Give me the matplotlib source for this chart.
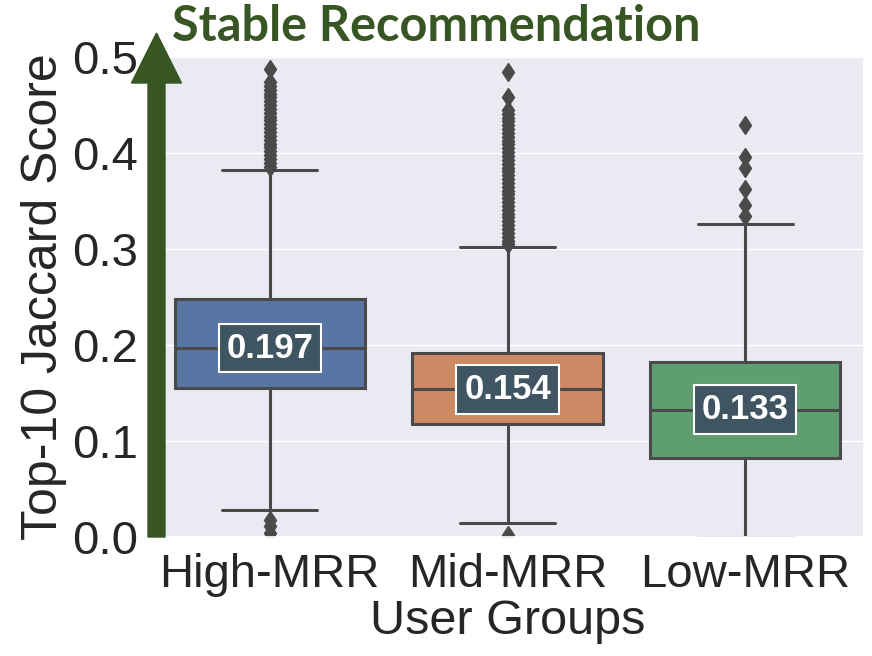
import matplotlib
matplotlib.use('Agg')  # Headless mode
import matplotlib.pyplot as plt
from matplotlib.patches import FancyArrow
import seaborn as sns

# Box statistics
groups = ["High-MRR", "Mid-MRR", "Low-MRR"]
medians = [0.197, 0.154, 0.133]
q1 = [0.155, 0.118, 0.083]
q3 = [0.248, 0.192, 0.183]
whisker_low = [0.028, 0.015, 0.0]
whisker_high = [0.382, 0.302, 0.326]

high_fliers = [0.004, 0.012, 0.018,
               0.386, 0.390, 0.394, 0.398, 0.402, 0.406, 0.410, 0.414, 0.418,
               0.422, 0.426, 0.430, 0.434, 0.438, 0.442, 0.446, 0.450, 0.454,
               0.458, 0.462, 0.466, 0.470, 0.474, 0.488]
mid_fliers = [0.002,
              0.305, 0.309, 0.313, 0.317, 0.321, 0.325, 0.329, 0.333, 0.337,
              0.341, 0.345, 0.349, 0.353, 0.357, 0.361, 0.365, 0.369, 0.373,
              0.377, 0.381, 0.385, 0.389, 0.393, 0.397, 0.401, 0.405, 0.409,
              0.413, 0.417, 0.421, 0.425, 0.429, 0.433, 0.437, 0.441, 0.445,
              0.458, 0.484]
low_fliers = [0.335, 0.346, 0.363, 0.384, 0.396, 0.429]
fliers = [high_fliers, mid_fliers, low_fliers]

y_ticks = [0.0, 0.1, 0.2, 0.3, 0.4, 0.5]

sns.set_theme(style="darkgrid")
plt.rcParams['font.family'] = ['Liberation Sans', 'DejaVu Sans']

fig = plt.figure(figsize=(8.72, 6.56), dpi=100)
ax = fig.add_axes([0.173, 0.181, 0.818, 0.732])

palette = [sns.desaturate(c, 0.75) for c in sns.color_palette("deep", 3)]
line_col = "#4a4a4a"

stats = []
for i in range(len(groups)):
    stats.append({
        "med": medians[i], "q1": q1[i], "q3": q3[i],
        "whislo": whisker_low[i], "whishi": whisker_high[i],
        "fliers": fliers[i], "label": groups[i],
    })

bp = ax.bxp(stats, positions=range(len(groups)), widths=0.8, patch_artist=True,
            boxprops=dict(edgecolor=line_col, linewidth=2.2),
            whiskerprops=dict(color=line_col, linewidth=2.2),
            capprops=dict(color=line_col, linewidth=2.2),
            medianprops=dict(color=line_col, linewidth=2.2),
            flierprops=dict(marker='d', markerfacecolor=line_col,
                            markeredgecolor=line_col, markersize=9.5))
for patch, col in zip(bp['boxes'], palette):
    patch.set_facecolor(col)

for i, m in enumerate(medians):
    ax.text(i, m, f"{m:.3f}", ha='center', va='center', fontsize=25,
            fontweight='bold', color='white', zorder=5,
            bbox=dict(boxstyle='square,pad=0.22', fc='#3f5561', ec='white', lw=1.5))

ax.set_xlim(-0.5, 2.5)
ax.set_ylim(0, 0.5)
ax.set_yticks(y_ticks)
ax.set_yticklabels([f"{t:.1f}" for t in y_ticks])
ax.set_xticks(range(len(groups)))
ax.set_xticklabels(groups)
ax.tick_params(axis='y', labelsize=34, pad=3)
ax.tick_params(axis='x', labelsize=34, pad=5)
ax.set_xlabel("User Groups", fontsize=35, labelpad=2)
ax.set_ylabel("Top-10 Jaccard Score", fontsize=36, labelpad=4)
ax.grid(axis='x', visible=False)

# Green arrow on the left edge
arrow = FancyArrow(1.565, 1.19, 0, 5.04, width=0.17, head_width=0.5,
                   head_length=0.5, length_includes_head=True,
                   color='#375623', transform=fig.dpi_scale_trans, zorder=10)
fig.patches.append(arrow)
fig.text(0.197, 0.9375, "Stable Recommendation", fontsize=35, fontweight='bold',
         color='#375623', family=['Lato', 'DejaVu Sans'], va='baseline')

fig.savefig("out.png", dpi=100)
